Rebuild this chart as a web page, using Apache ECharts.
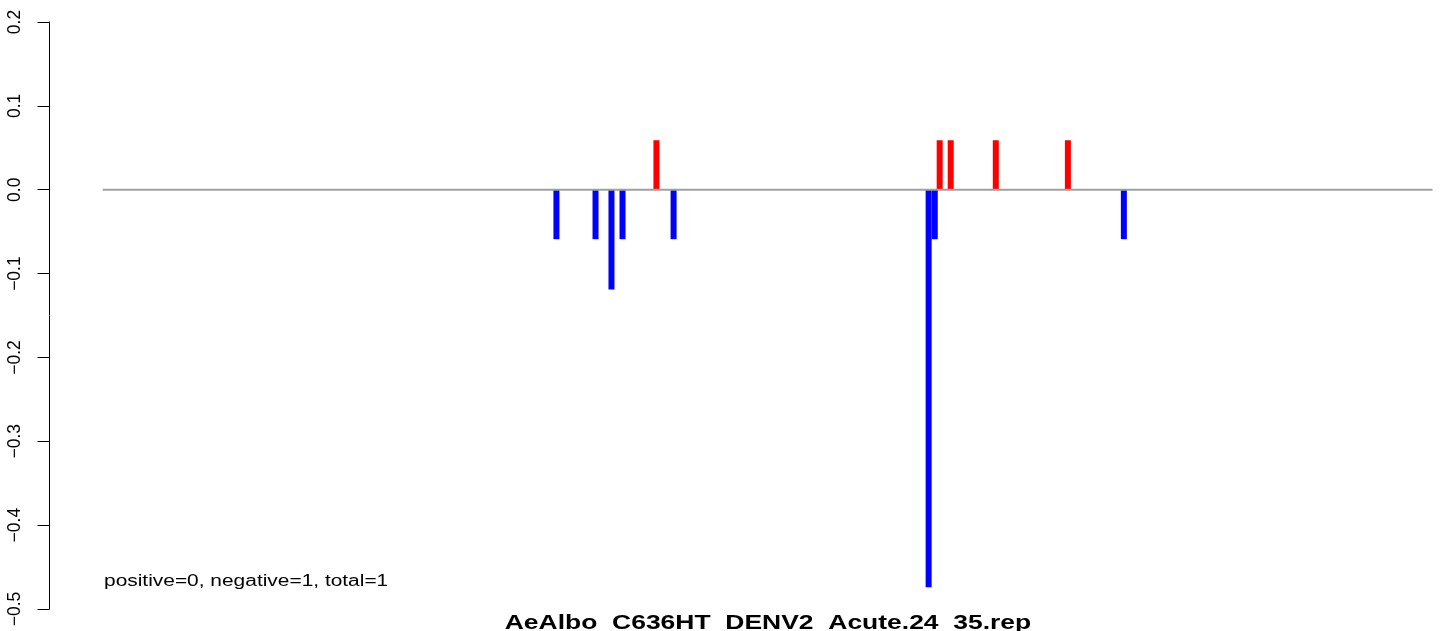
<!DOCTYPE html>
<html>
<head>
<meta charset="utf-8">
<script src="https://cdn.jsdelivr.net/npm/echarts@6/dist/echarts.min.js"></script>
<style>
html,body{margin:0;padding:0;background:#fff;}
#chart{width:1444px;height:631px;}
</style>
</head>
<body>
<div id="chart"></div>
<script>
// Data (x in position units spanning 0..1000 along the baseline)
const negX = [341.2, 370.6, 382.6, 390.9, 429.3, 621.1, 625.7, 767.9];
const negY = [-0.059, -0.059, -0.119, -0.059, -0.059, -0.474, -0.059, -0.059];
const posX = [416.4, 629.4, 637.7, 671.6, 725.8];
const posY = [0.059, 0.059, 0.059, 0.059, 0.059];
const baseX = [0, 1000];
const yTicks = [-0.5, -0.4, -0.3, -0.2, -0.1, 0.0, 0.1, 0.2];
const titleText = 'AeAlbo_C636HT_DENV2_Acute.24_35.rep';
const noteText = 'positive=0, negative=1, total=1';

const barData = [];
negX.forEach((x, i) => barData.push({value: [x, negY[i]], itemStyle: {color: '#0000FF'}}));
posX.forEach((x, i) => barData.push({value: [x, posY[i]], itemStyle: {color: '#FF0000'}}));

const chart = echarts.init(document.getElementById('chart'), null, {renderer: 'canvas'});
const font = '"Liberation Sans", Arial, Helvetica, sans-serif';
chart.setOption({
  animation: false,
  backgroundColor: '#ffffff',
  grid: {left: 49.5, right: 11.5, top: 22, bottom: 22, containLabel: false},
  xAxis: {
    type: 'value', min: -40, max: 1000, show: false
  },
  yAxis: {
    type: 'value', min: yTicks[0], max: yTicks[yTicks.length - 1], interval: 0.1,
    axisLine: {show: true, onZero: false, lineStyle: {color: '#000', width: 1}},
    axisTick: {show: true, length: 12, lineStyle: {color: '#000', width: 1}},
    splitLine: {show: false},
    axisLabel: {
      rotate: 90, margin: 25, color: '#000', fontSize: 17.5, fontFamily: font,
      formatter: v => (v < -1e-9 ? '\u2212' : '') + Math.abs(v).toFixed(1)
    }
  },
  series: [
    {
      type: 'bar', data: barData, barWidth: 6, z: 2
    },
    {
      type: 'line', data: baseX.map(x => [x, 0]), symbol: 'none', z: 3,
      lineStyle: {color: '#A0A0A0', width: 2}
    }
  ],
  graphic: [
    {
      type: 'text', x: 104, y: 581.5, scaleX: 1.21,
      style: {text: noteText, x: 0, y: 0, fontSize: 17.3, fontFamily: font, fill: '#000',
              textAlign: 'left', textVerticalAlign: 'middle'}
    },
    {
      type: 'text', x: 768, y: 623, scaleX: 1.26,
      style: {text: titleText, x: 0, y: 0, fontSize: 21, fontWeight: 'bold', fontFamily: font, fill: '#000',
              textAlign: 'center', textVerticalAlign: 'middle'}
    }
  ]
});
</script>
</body>
</html>
